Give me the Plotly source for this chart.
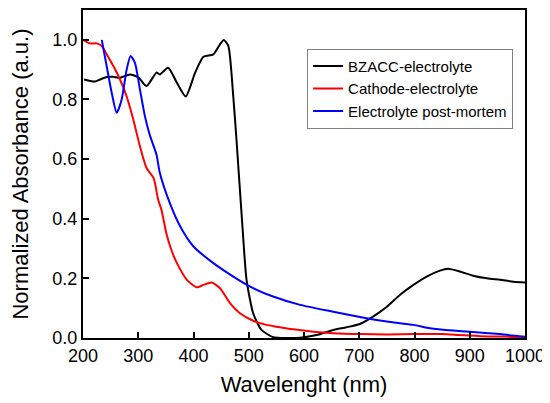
import plotly.graph_objects as go

# BZACC-electrolyte
bz_x = [202, 213, 222, 231, 243, 254, 267, 285, 300, 315, 333, 339, 354, 370, 386, 403, 418,
        436, 448, 455, 463, 472, 478, 489, 496, 508, 523, 544, 570, 593, 623, 653, 677, 701,
        725, 750, 774, 798, 822, 846, 861, 882, 906, 931, 955, 979, 1000]
bz_y = [0.867, 0.862, 0.86, 0.867, 0.875, 0.876, 0.873, 0.884, 0.874, 0.845, 0.89, 0.884, 0.906,
        0.856, 0.81, 0.89, 0.943, 0.951, 0.985, 0.999, 0.98, 0.81, 0.66, 0.363, 0.195, 0.083,
        0.027, 0.003, 0.0, 0.001, 0.01, 0.027, 0.036, 0.047, 0.072, 0.105, 0.145, 0.178, 0.206,
        0.226, 0.232, 0.223, 0.209, 0.2, 0.195, 0.189, 0.186]

# Cathode-electrolyte
ca_x = [200, 213, 225, 234, 243, 255, 267, 279, 291, 303, 315, 328, 336, 342, 351, 361, 370,
        388, 406, 418, 433, 448, 466, 484, 508, 532, 550, 581, 617, 653, 701, 750, 800, 850,
        880, 920, 960, 1000]
ca_y = [1.0, 0.988, 0.988, 0.979, 0.951, 0.912, 0.867, 0.81, 0.733, 0.643, 0.57, 0.535, 0.464,
        0.43, 0.35, 0.29, 0.251, 0.195, 0.17, 0.178, 0.186, 0.167, 0.117, 0.083, 0.058, 0.044,
        0.038, 0.029, 0.021, 0.016, 0.013, 0.012, 0.013, 0.013, 0.01, 0.006, 0.005, 0.002]

# Electrolyte post-mortem
pm_x = [234, 243, 252, 261, 270, 279, 286, 294, 303, 312, 321, 333, 339, 357, 376, 400, 436,
        472, 508, 544, 593, 653, 713, 750, 798, 828, 870, 900, 955, 1000]
pm_y = [1.0, 0.91, 0.822, 0.755, 0.80, 0.90, 0.946, 0.923, 0.834, 0.744, 0.68, 0.615, 0.554,
        0.453, 0.374, 0.307, 0.251, 0.206, 0.167, 0.139, 0.111, 0.088, 0.066, 0.055, 0.044,
        0.033, 0.025, 0.021, 0.013, 0.004]

FONT = "Liberation Sans, Arial"

fig = go.Figure()
fig.add_trace(go.Scatter(x=bz_x, y=bz_y, mode="lines", name="BZACC-electrolyte",
                         line=dict(color="black", width=2, shape="spline", smoothing=0.6)))
fig.add_trace(go.Scatter(x=ca_x, y=ca_y, mode="lines", name="Cathode-electrolyte",
                         line=dict(color="#ff0000", width=2, shape="spline", smoothing=0.6)))
fig.add_trace(go.Scatter(x=pm_x, y=pm_y, mode="lines", name="Electrolyte post-mortem",
                         line=dict(color="#0000ff", width=2, shape="spline", smoothing=0.6)))

axis_common = dict(showline=True, linecolor="black", linewidth=2, mirror=True,
                   ticks="inside", ticklen=6, tickwidth=2, tickcolor="black",
                   showgrid=False, zeroline=False, automargin=False,
                   tickfont=dict(family=FONT, size=18, color="black"))

fig.update_xaxes(range=[200, 1000], dtick=100, tick0=200,
                 title=dict(text="Wavelenght (nm)", standoff=12,
                            font=dict(family=FONT, size=22, color="black")),
                 **axis_common)
fig.update_yaxes(range=[0, 1.1], dtick=0.2, tickformat=".1f",
                 title=dict(text="Normalized Absorbance (a.u.)", standoff=20,
                            font=dict(family=FONT, size=22, color="black")),
                 **axis_common)

# page body has an 8px margin, so the figure is a bit smaller than the window
fig.update_layout(
    width=542, height=395,
    margin=dict(l=75, r=25, t=2, b=65),
    plot_bgcolor="white", paper_bgcolor="white",
    legend=dict(x=0.507, y=0.882, xanchor="left", yanchor="top",
                bgcolor="white", bordercolor="#808080", borderwidth=1,
                font=dict(family=FONT, size=15, color="black"),
                tracegroupgap=0, itemwidth=30),
)

fig.write_html("out.html")
